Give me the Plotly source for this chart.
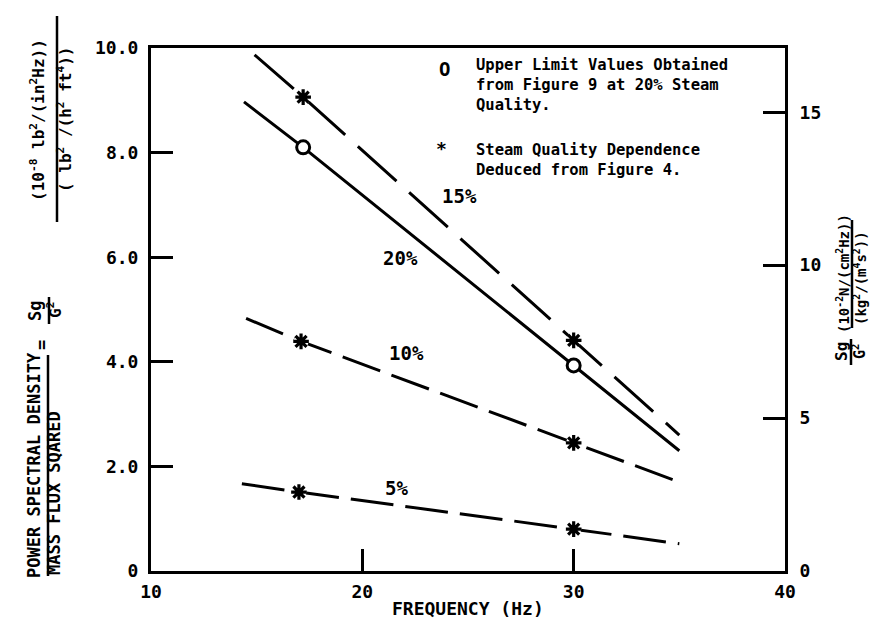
import plotly.graph_objects as go

# ---- data ----
freq_15 = [14.9, 17.2, 30.0, 35.0]
psd_15 = [9.87, 9.06, 4.41, 2.60]
freq_20 = [14.4, 17.2, 30.0, 35.0]
psd_20 = [8.97, 8.10, 3.93, 2.30]
freq_10 = [14.5, 17.1, 30.0, 35.0]
psd_10 = [4.83, 4.39, 2.45, 1.70]
freq_5 = [14.3, 17.0, 30.0, 35.0]
psd_5 = [1.67, 1.51, 0.80, 0.52]

star_freq = [17.2, 30.0, 17.1, 30.0, 17.0, 30.0]
star_psd = [9.06, 4.41, 4.39, 2.45, 1.51, 0.80]
circle_freq = [17.2, 30.0]
circle_psd = [8.10, 3.93]

x_ticks = [10, 20, 30, 40]
y_ticks = [0, 2, 4, 6, 8, 10]
y_ticktext = ["0", "2.0", "4.0", "6.0", "8.0", "10.0"]
y2_ticks = [0, 5, 10, 15]
y2_ticktext = ["0", "5", "10", "15"]
SI_FACTOR = 1.71  # right-axis units per left-axis unit

curve_labels = ["15%", "20%", "10%", "5%"]

# ---- layout geometry (pixels) ----
W, H = 893, 624
L, R, T, B = 143, 777, 40, 563


def P(px, py):
    return (px - L) / (R - L), (B - py) / (B - T)


MONO = "DejaVu Sans Mono"
BLACK = "black"

fig = go.Figure()

line_specs = [
    (freq_15, psd_15, "52px,17px"),
    (freq_20, psd_20, "solid"),
    (freq_10, psd_10, "40px,12px"),
    (freq_5, psd_5, "43px,12px"),
]
for fx, fy, dash in line_specs:
    fig.add_trace(go.Scatter(x=fx, y=fy, mode="lines",
                             line=dict(color=BLACK, width=3, dash=dash),
                             hoverinfo="skip", showlegend=False))

# knock-out background behind asterisks
fig.add_trace(go.Scatter(x=star_freq, y=star_psd, mode="markers",
                         marker=dict(symbol="circle", size=15, color="white",
                                     line=dict(width=0)),
                         hoverinfo="skip", showlegend=False))
fig.add_trace(go.Scatter(x=star_freq, y=star_psd, mode="markers",
                         marker=dict(symbol="asterisk-open", size=13,
                                     color=BLACK,
                                     line=dict(color=BLACK, width=3.2)),
                         showlegend=False))
fig.add_trace(go.Scatter(x=circle_freq, y=circle_psd, mode="markers",
                         marker=dict(symbol="circle", size=13, color="white",
                                     line=dict(color=BLACK, width=3)),
                         showlegend=False))
# invisible trace to activate the secondary axis
fig.add_trace(go.Scatter(x=[10], y=[0], yaxis="y2", mode="markers",
                         marker=dict(opacity=0), hoverinfo="skip",
                         showlegend=False))

tick_font = dict(family=MONO, size=18, color=BLACK, weight="bold")

fig.update_layout(
    width=W, height=H,
    margin=dict(l=L, r=W - R, t=T, b=H - B),
    paper_bgcolor="white", plot_bgcolor="white",
    xaxis=dict(range=[10, 40], tickvals=x_ticks, ticks="inside", ticklen=22,
               tickwidth=2.5, tickcolor=BLACK, showline=True, linewidth=3,
               linecolor=BLACK, mirror=True, showgrid=False, zeroline=False,
               tickfont=tick_font, ticklabelstandoff=2),
    yaxis=dict(range=[0, 10], tickvals=y_ticks, ticktext=y_ticktext,
               ticks="inside", ticklen=22, tickwidth=2.5, tickcolor=BLACK,
               showline=True, linewidth=3, linecolor=BLACK, showgrid=False,
               zeroline=False, tickfont=tick_font, ticklabelstandoff=6),
    yaxis2=dict(range=[0, 10 * SI_FACTOR], tickvals=y2_ticks,
                ticktext=y2_ticktext, overlaying="y", side="right",
                ticks="inside", ticklen=22, tickwidth=2.5, tickcolor=BLACK,
                showline=True, linewidth=3, linecolor=BLACK, showgrid=False,
                zeroline=False, tickfont=tick_font, ticklabelstandoff=8),
)

ann = []


def text(px, py, s, size=16, angle=0, xanchor="center", yanchor="middle"):
    x, y = P(px, py)
    ann.append(dict(x=x, y=y, xref="paper", yref="paper", text=s,
                    showarrow=False, textangle=angle, xanchor=xanchor,
                    yanchor=yanchor, align="left",
                    font=dict(family=MONO, size=size, color=BLACK)))


# curve labels (data coords)
label_pos = [(24.6, 7.17), (21.8, 5.98), (22.1, 4.17), (21.6, 1.59)]
for (lx, ly), s in zip(label_pos, curve_labels):
    ann.append(dict(x=lx, y=ly, xref="x", yref="y", text="<b>" + s + "</b>",
                    showarrow=False,
                    font=dict(family=MONO, size=19, color=BLACK)))

# x-axis title
text(460, 600, "<b>FREQUENCY (Hz)</b>", size=18)

# legend block
text(436, 61, "<b>O</b>", size=19)
text(466, 77, "<b>Upper Limit Values Obtained<br>from Figure 9 at 20% Steam"
     "<br>Quality.</b>", size=15.5, xanchor="left")
text(433, 140, "<b>*</b>", size=18)
text(466, 152, "<b>Steam Quality Dependence<br>Deduced from Figure 4.</b>",
     size=15.5, xanchor="left")

# left axis title (rotated, fraction style)
DX = -7
text(33 + DX, 457, "<b>POWER SPECTRAL DENSITY</b>", size=17, angle=-90)
text(53 + DX, 485, "<b>MASS FLUX SQARED</b>", size=17, angle=-90)
text(41 + DX, 337, "<b>=</b>", size=17, angle=-90)
text(34 + DX, 303, "<b>Sg</b>", size=17, angle=-90)
text(53 + DX, 302, "<b>G<sup>2</sup></b>", size=16, angle=-90)
text(36 + DX, 112,
     "<b>(10<sup>-8</sup> lb<sup>2</sup>/(in<sup>2</sup>Hz))</b>",
     size=16, angle=-90)
text(63 + DX, 112, "<b>( lb<sup>2</sup> /(h<sup>2</sup> ft<sup>4</sup>))</b>",
     size=16, angle=-90)

# right axis title
text(834, 344, "<b>Sg</b>", size=16, angle=-90)
text(851, 344, "<b>G<sup>2</sup></b>", size=15, angle=-90)
text(835, 266, "<b>(10<sup>-2</sup>N/(cm<sup>2</sup>Hz))</b>", size=14,
     angle=-90)
text(852, 270, "<b>(kg<sup>2</sup>/(m<sup>4</sup>s<sup>2</sup>))</b>",
     size=14, angle=-90)

fig.update_layout(annotations=ann)

# fraction bars
shapes = []


def vbar(px, py0, py1, w=2.5):
    x0, y0 = P(px, py0)
    _, y1 = P(px, py1)
    shapes.append(dict(type="line", xref="paper", yref="paper", x0=x0, x1=x0,
                       y0=y0, y1=y1, line=dict(color=BLACK, width=w)))


vbar(40, 568, 347)
vbar(41, 316, 289)
vbar(49, 214, 8)
vbar(843, 357, 331)
vbar(844, 320, 212)
fig.update_layout(shapes=shapes)

fig.write_html("out.html")
